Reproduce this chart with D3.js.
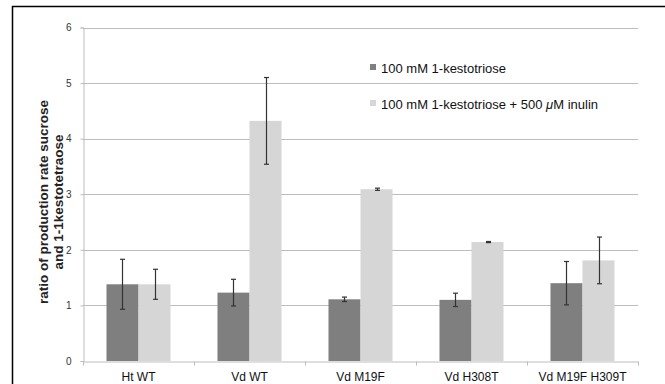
<!DOCTYPE html>
<html>
<head>
<meta charset="utf-8">
<script src="https://cdn.jsdelivr.net/npm/d3@7"></script>
<style>
  body { margin: 0; background: #fff; }
  svg { display: block; font-family: "Liberation Sans", Arial, sans-serif; }
</style>
</head>
<body>
<svg id="chart" width="665" height="384"></svg>
<script>
// data
const categories = ['Ht WT', 'Vd WT', 'Vd M19F', 'Vd H308T', 'Vd M19F H309T']
const seriesNames = [['100 mM 1-kestotriose'], ['100 mM 1-kestotriose + 500 ', '\u03bc', 'M inulin']]
const kestotriose = [1.38, 1.23, 1.11, 1.10, 1.40]
const kestotrioseErr = [0.45, 0.24, 0.04, 0.12, 0.39]
const withInulin = [1.38, 4.32, 3.09, 2.14, 1.81]
const withInulinErr = [0.27, 0.78, 0.02, 0.01, 0.42]
const yTicks = [0, 1, 2, 3, 4, 5, 6]
const yTitle = ['ratio of production rate sucrose', 'and 1-1kestotetraose']

const colors = ['#7f7f7f', '#d6d6d6']

const svg = d3.select('#chart')
const margin = {left: 83, right: 27, top: 27.5, bottom: 23}
const W = 665, H = 384

// frame
svg.append('rect')
  .attr('x', 12.5).attr('y', 6.5)
  .attr('width', 700).attr('height', 500)
  .attr('fill', 'none').attr('stroke', '#000').attr('stroke-width', 1.5)

const x0 = d3.scaleBand()
  .domain(categories)
  .range([margin.left, W - margin.right])
  .paddingInner(0)

const x1 = d3.scaleBand()
  .domain([0, 1])
  .range([0, x0.bandwidth()])
  .paddingInner(0)
  .paddingOuter(0.734)

const y = d3.scaleLinear().domain([0, 6]).range([H - margin.bottom, margin.top])

// gridlines
svg.append('g')
  .selectAll('line')
  .data(yTicks.slice(1))
  .join('line')
  .attr('x1', margin.left).attr('x2', W - margin.right)
  .attr('y1', d => Math.round(y(d)) + 0.5).attr('y2', d => Math.round(y(d)) + 0.5)
  .attr('stroke', '#bdbdbd').attr('stroke-width', 1)

// y axis
const yAxis = svg.append('g')
  .attr('transform', `translate(${margin.left + 0.5},0)`)
  .call(d3.axisLeft(y).tickValues(yTicks).tickFormat(d3.format('d')).tickSize(3).tickPadding(9))
yAxis.select('.domain').attr('stroke', '#bdbdbd')
yAxis.selectAll('.tick line').attr('stroke', '#bdbdbd')
yAxis.selectAll('text').attr('fill', '#333').style('font-size', '10px')

// x axis
const xAxis = svg.append('g')
  .attr('transform', `translate(0,${Math.round(y(0)) + 0.5})`)
  .call(d3.axisBottom(x0).tickSize(0).tickPadding(11))
xAxis.select('.domain').attr('stroke', '#bdbdbd')
xAxis.selectAll('text').attr('fill', '#111').style('font-size', '12px')
xAxis.selectAll('.sep')
  .data(d3.range(categories.length + 1))
  .join('line')
  .attr('class', 'sep')
  .attr('x1', i => Math.round(margin.left + i * x0.step()) + 0.5)
  .attr('x2', i => Math.round(margin.left + i * x0.step()) + 0.5)
  .attr('y1', 0).attr('y2', 4)
  .attr('stroke', '#bdbdbd')

// bars
const series = [
  {vals: kestotriose, errs: kestotrioseErr},
  {vals: withInulin, errs: withInulinErr}
]
const bars = []
series.forEach((s, si) => {
  categories.forEach((c, ci) => bars.push({c, si, v: s.vals[ci], e: s.errs[ci]}))
})

svg.append('g')
  .selectAll('rect')
  .data(bars)
  .join('rect')
  .attr('x', d => x0(d.c) + x1(d.si))
  .attr('width', x1.bandwidth())
  .attr('y', d => y(d.v))
  .attr('height', d => y(0) - y(d.v))
  .attr('fill', d => colors[d.si])

// error bars
const eg = svg.append('g').attr('stroke', '#333').attr('stroke-width', 1.2)
bars.forEach(d => {
  const cx = Math.round(x0(d.c) + x1(d.si) + x1.bandwidth() / 2) + 0.5
  eg.append('line').attr('x1', cx).attr('x2', cx)
    .attr('y1', y(d.v + d.e)).attr('y2', y(d.v - d.e))
  ;[d.v + d.e, d.v - d.e].forEach(v => {
    eg.append('line').attr('x1', cx - 2.5).attr('x2', cx + 2.5)
      .attr('y1', y(v)).attr('y2', y(v))
  })
})

// legend (mu in italics)
const lg = svg.append('g')
seriesNames.forEach((parts, i) => {
  const ly = 68 + i * 36
  lg.append('rect').attr('x', 370).attr('y', ly - 4).attr('width', 6).attr('height', 6)
    .attr('fill', colors[i])
  const t = lg.append('text').attr('x', 381).attr('y', ly + 4.5)
    .attr('fill', '#111').style('font-size', '13px')
  parts.forEach(p => {
    t.append('tspan').style('font-style', p === '\u03bc' ? 'italic' : 'normal').text(p)
  })
})

// y title, two lines
svg.append('g')
  .selectAll('text')
  .data(yTitle)
  .join('text')
  .attr('transform', (d, i) => `translate(${43 + i * 15},202) rotate(-90)`)
  .attr('text-anchor', 'middle')
  .attr('dominant-baseline', 'central')
  .style('font-size', '13.5px').style('font-weight', 'bold').attr('fill', '#222')
  .text(d => d)
</script>
</body>
</html>
